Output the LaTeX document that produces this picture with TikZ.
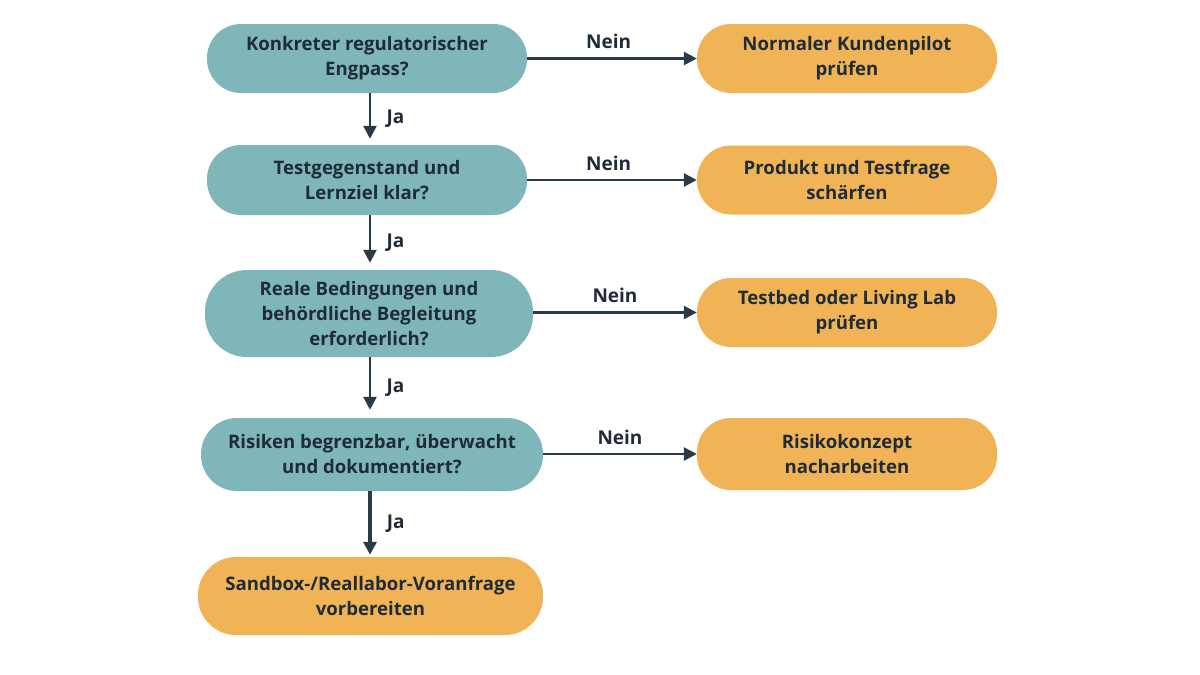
\documentclass[tikz,border=0pt]{standalone}
\usepackage{fontspec}
\setmainfont{Open Sans}
\usetikzlibrary{arrows.meta}
\definecolor{tealbox}{HTML}{7FB6B9}
\definecolor{orangebox}{HTML}{F0B456}
\definecolor{txt}{HTML}{1E2B38}
\definecolor{arr}{HTML}{2A3A48}
\tikzset{
  box/.style={rounded corners=#1, align=center, font=\fontsize{18.6}{25}\selectfont\bfseries, text=txt, inner sep=0pt},
  qbox/.style={box=34pt, fill=tealbox},
  abox/.style={box=34pt, fill=orangebox},
  conn/.style={draw=arr, line width=2.6pt, -{Triangle[length=13pt,width=13pt]}},
  lbl/.style={font=\fontsize{19}{22}\selectfont\bfseries, text=txt}
}
\begin{document}
\begin{tikzpicture}[x=1pt,y=-1pt]
\useasboundingbox[fill=white] (0,0) rectangle (1200,675);
\node[qbox, minimum width=320pt, minimum height=69pt] (q1) at (367,58.5) {Konkreter regulatorischer\\Engpass?};
\node[qbox, minimum width=320pt, minimum height=70pt] (q2) at (367,180) {Testgegenstand und\\Lernziel klar?};
\node[qbox, rounded corners=42pt, minimum width=328pt, minimum height=87pt] (q3) at (369,313.5) {Reale Bedingungen und\\beh\"ordliche Begleitung\\erforderlich?};
\node[qbox, rounded corners=36pt, minimum width=342pt, minimum height=73pt] (q4) at (372,454.5) {Risiken begrenzbar, \"uberwacht\\und dokumentiert?};
\node[abox, rounded corners=38pt, minimum width=345pt, minimum height=78pt] (e) at (370.5,596) {Sandbox-/Reallabor-Voranfrage\\vorbereiten};
\node[abox, minimum width=300pt, minimum height=69pt] (r1) at (847,58.5) {Normaler Kundenpilot\\pr\"ufen};
\node[abox, minimum width=300pt, minimum height=69pt] (r2) at (847,180) {Produkt und Testfrage\\sch\"arfen};
\node[abox, minimum width=300pt, minimum height=69pt] (r3) at (847,312.5) {Testbed oder Living Lab\\pr\"ufen};
\node[abox, minimum width=300pt, minimum height=72pt] (r4) at (847,454) {Risikokonzept\\nacharbeiten};
\draw[conn] (q1.east) -- node[lbl, above=5pt, pos=0.48] {Nein} (r1.west);
\draw[conn] (q2.east) -- node[lbl, above=5pt, pos=0.48] {Nein} (r2.west);
\draw[conn] (q3.east |- r3.west) -- node[lbl, above=5pt, pos=0.5] {Nein} (r3.west);
\draw[conn] (q4.east |- r4.west) -- node[lbl, above=5pt, pos=0.5] {Nein} (r4.west);
\draw[conn, shorten >=6pt] (q1.south -| 370,0) -- node[lbl, right=12pt] {Ja} (q2.north -| 370,0);
\draw[conn, shorten >=7pt] (q2.south -| 370,0) -- node[lbl, right=12pt] {Ja} (q3.north -| 370,0);
\draw[conn, shorten >=8pt] (q3.south -| 370,0) -- node[lbl, right=12pt] {Ja} (q4.north -| 370,0);
\draw[conn, line width=3.2pt, shorten >=2pt] (q4.south -| 370,0) -- node[lbl, right=12pt] {Ja} (e.north -| 370,0);
\end{tikzpicture}
\end{document}
